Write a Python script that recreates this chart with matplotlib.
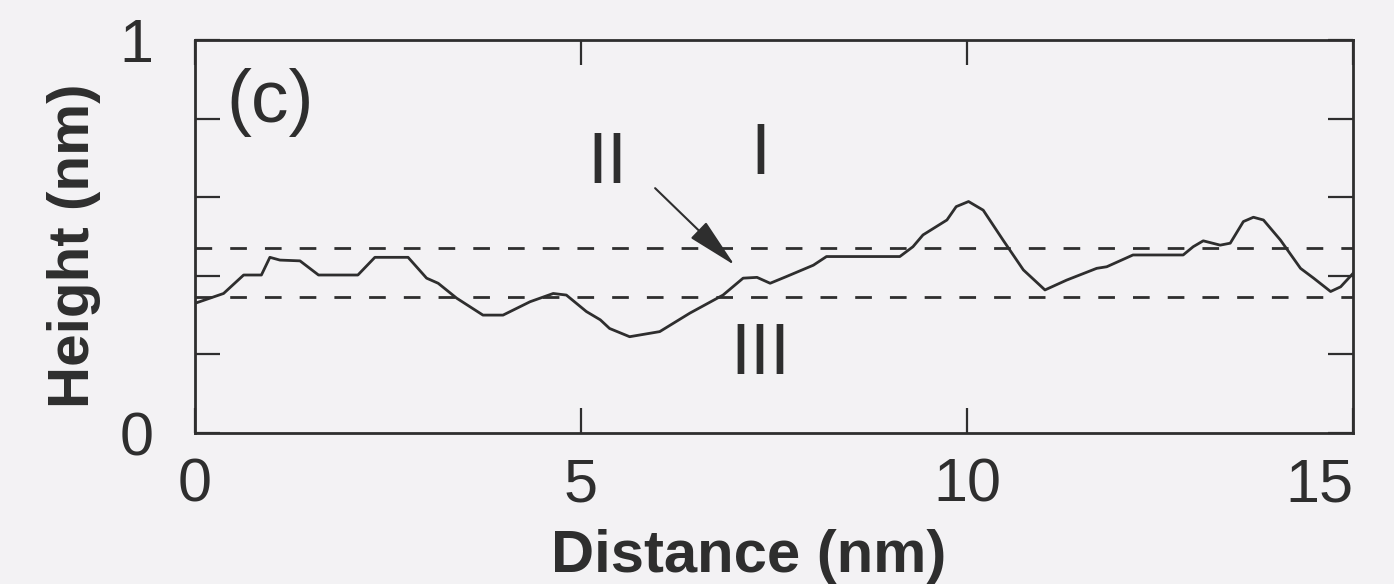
import matplotlib
matplotlib.use("Agg")
import matplotlib.pyplot as plt

plt.rcParams['font.family'] = ['Liberation Sans', 'DejaVu Sans']

distance = [0, 0.37, 0.63, 0.86, 0.97, 1.10, 1.36, 1.60, 2.11, 2.33,
            2.76, 3.00, 3.15, 3.39, 3.73, 3.99, 4.34, 4.64, 4.81, 5.07,
            5.25, 5.37, 5.63, 6.02, 6.41, 6.84, 7.10, 7.28, 7.45, 7.66,
            8.01, 8.18, 9.13, 9.30, 9.43, 9.74, 9.86, 10.02, 10.21, 10.47,
            10.73, 11.01, 11.29, 11.68, 11.81, 12.15, 12.80, 12.93, 13.06, 13.28,
            13.41, 13.58, 13.71, 13.84, 14.06, 14.32, 14.49, 14.71, 14.84, 15.0]
height = [0.33, 0.355, 0.402, 0.402, 0.447, 0.44, 0.438, 0.402, 0.402, 0.447,
          0.447, 0.394, 0.381, 0.343, 0.30, 0.30, 0.334, 0.355, 0.351, 0.309,
          0.288, 0.266, 0.245, 0.258, 0.305, 0.351, 0.394, 0.396, 0.381, 0.398,
          0.427, 0.449, 0.449, 0.474, 0.504, 0.542, 0.576, 0.589, 0.567, 0.49,
          0.415, 0.364, 0.389, 0.419, 0.423, 0.453, 0.453, 0.474, 0.489, 0.478,
          0.483, 0.538, 0.549, 0.542, 0.491, 0.419, 0.394, 0.360, 0.372, 0.406]

level_upper = 0.47
level_lower = 0.345

xticks = [0, 5, 10, 15]
xticklabels = ['0', '5', '10', '15']
yticks = [0, 0.2, 0.4, 0.6, 0.8, 1.0]
yticklabels = ['0', '', '', '', '', '1']

bg = '#f3f2f4'
ink = '#2e2e2e'

fig = plt.figure(figsize=(13.94, 5.84), dpi=100, facecolor=bg)
ax = fig.add_axes([195/1394, 1-433/584, (1353-195)/1394, (433-40)/584])
ax.set_facecolor(bg)

ax.plot(distance, height, color=ink, lw=2.0)
for lvl in (level_upper, level_lower):
    ax.axhline(lvl, color=ink, lw=2.0, dashes=(6, 6.5))

ax.set_xlim(0, 15)
ax.set_ylim(0, 1)
ax.set_xticks(xticks)
ax.set_xticklabels(xticklabels)
ax.set_yticks(yticks)
ax.set_yticklabels(yticklabels)

for s in ax.spines.values():
    s.set_linewidth(2.0)
    s.set_color(ink)

ax.tick_params(axis='both', direction='in', length=18, width=1.6, color=ink,
               top=True, right=True, labelsize=44, labelcolor=ink)
ax.tick_params(axis='x', pad=18)
ax.tick_params(axis='y', pad=30)
xl = ax.get_xticklabels()
xl[-1].set_horizontalalignment('right')
xl[-1].set_x(15.1)

ax.set_xlabel('Distance (nm)', fontsize=43, fontweight='bold', color=ink)
ax.set_ylabel('Height (nm)', fontsize=42, fontweight='bold', color=ink)
ax.xaxis.set_label_coords((749-195)/(1353-195), -(529-433)/393, transform=ax.transAxes)
ax.yaxis.set_label_coords(-(195-101)/(1353-195), 0.476)

ax.text(0.97, 0.842, '(c)', fontsize=54, color=ink, ha='center', va='center')
ax.text(5.34, 0.682, 'II', fontsize=52, color=ink, ha='center', va='center')
ax.text(7.32, 0.705, 'I', fontsize=52, color=ink, ha='center', va='center')
ax.text(7.32, 0.196, 'III', fontsize=52, color=ink, ha='center', va='center')

ax.annotate('', xy=(6.99, 0.427), xytext=(5.96, 0.623),
            arrowprops=dict(arrowstyle='-|>,head_length=1.6,head_width=0.35',
                            mutation_scale=20, lw=1.5, color=ink, fc=ink,
                            shrinkA=0, shrinkB=0))

fig.savefig('out.png', dpi=100, facecolor=bg)
